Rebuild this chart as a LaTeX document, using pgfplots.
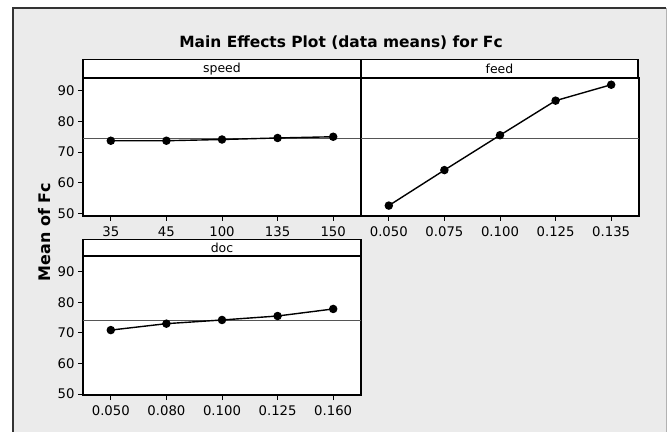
\documentclass[border=0pt]{standalone}
\usepackage{pgfplots}
\pgfplotsset{compat=1.18}
\usepackage{fontspec}
\setmainfont{DejaVu Sans}

\definecolor{framegray}{HTML}{EBEBEB}
\definecolor{refline}{HTML}{555555}

\pgfplotsset{
  mep/.style={
    scale only axis,
    width=278bp, height=138bp,
    anchor=south west,
    xmin=-0.5, xmax=4.5,
    xtick={0,1,2,3,4},
    ytick={50,60,70,80,90},
    tick align=outside,
    xtick pos=left, ytick pos=left,
    major tick length=5bp,
    tick style={black, line width=0.8bp},
    axis line style={line width=1.4bp},
    axis background/.style={fill=white},
    ticklabel style={font=\fontsize{13.3}{15}\selectfont},
    xticklabel style={yshift=-2.5bp},
    /pgf/number format/assume math mode=true,
    clip=false,
  },
  meanline/.style={refline, line width=0.9bp, forget plot},
  effect/.style={black, line width=1.4bp, mark=*, mark size=3.5bp},
}

\begin{document}
\begin{tikzpicture}
\path[use as bounding box] (0,0) rectangle (668bp,432bp);
% outer panel
\fill[framegray] (13bp,-5bp) rectangle (666bp,424bp);
\draw[gray!60, line width=0.8bp] (666bp,-5bp) -- (666bp,424bp);
\draw[black!80, line width=1.4bp] (13bp,-5bp) -- (13bp,424bp) -- (666bp,424bp);

\node[font=\fontsize{15.5}{18}\bfseries\selectfont] at (341bp,389bp) {Main Effects Plot (data means) for Fc};
\node[font=\fontsize{16}{18}\bfseries\selectfont, rotate=90] at (45bp,200bp) {Mean of Fc};

% speed
\begin{axis}[mep, at={(83bp,216bp)}, ymin=49.1, ymax=94.2,
  xticklabels={35,45,100,135,150}]
  \addplot[meanline] coordinates {(-0.5,74.3) (4.5,74.3)};
  \addplot[effect] coordinates {(0,73.7) (1,73.7) (2,74.1) (3,74.6) (4,75.0)};
\end{axis}

% feed
\begin{axis}[mep, at={(361bp,216bp)}, ymin=49.1, ymax=94.2, ytick=\empty,
  xticklabels={0.050,0.075,0.100,0.125,0.135}]
  \addplot[meanline] coordinates {(-0.5,74.3) (4.5,74.3)};
  \addplot[effect] coordinates {(0,52.5) (1,64.1) (2,75.5) (3,86.8) (4,92.0)};
\end{axis}

% doc
\begin{axis}[mep, at={(83bp,37bp)}, height=139bp, ymin=49.7, ymax=95.1,
  xticklabels={0.050,0.080,0.100,0.125,0.160}]
  \addplot[meanline] coordinates {(-0.5,74.2) (4.5,74.2)};
  \addplot[effect] coordinates {(0,70.9) (1,73.0) (2,74.2) (3,75.5) (4,77.8)};
\end{axis}

% strip headers
\begin{scope}[line width=1.4bp]
\filldraw[fill=white, draw=black] (83bp,354bp) rectangle (361bp,372.5bp);
\filldraw[fill=white, draw=black] (361bp,354bp) rectangle (638bp,372.5bp);
\filldraw[fill=white, draw=black] (83bp,176bp) rectangle (361bp,192.5bp);
\end{scope}
\begin{scope}[font=\fontsize{12.5}{14}\selectfont]
\node at (222bp,363bp) {speed};
\node at (499.5bp,363bp) {feed};
\node at (222bp,184bp) {doc};
\end{scope}
\end{tikzpicture}
\end{document}
